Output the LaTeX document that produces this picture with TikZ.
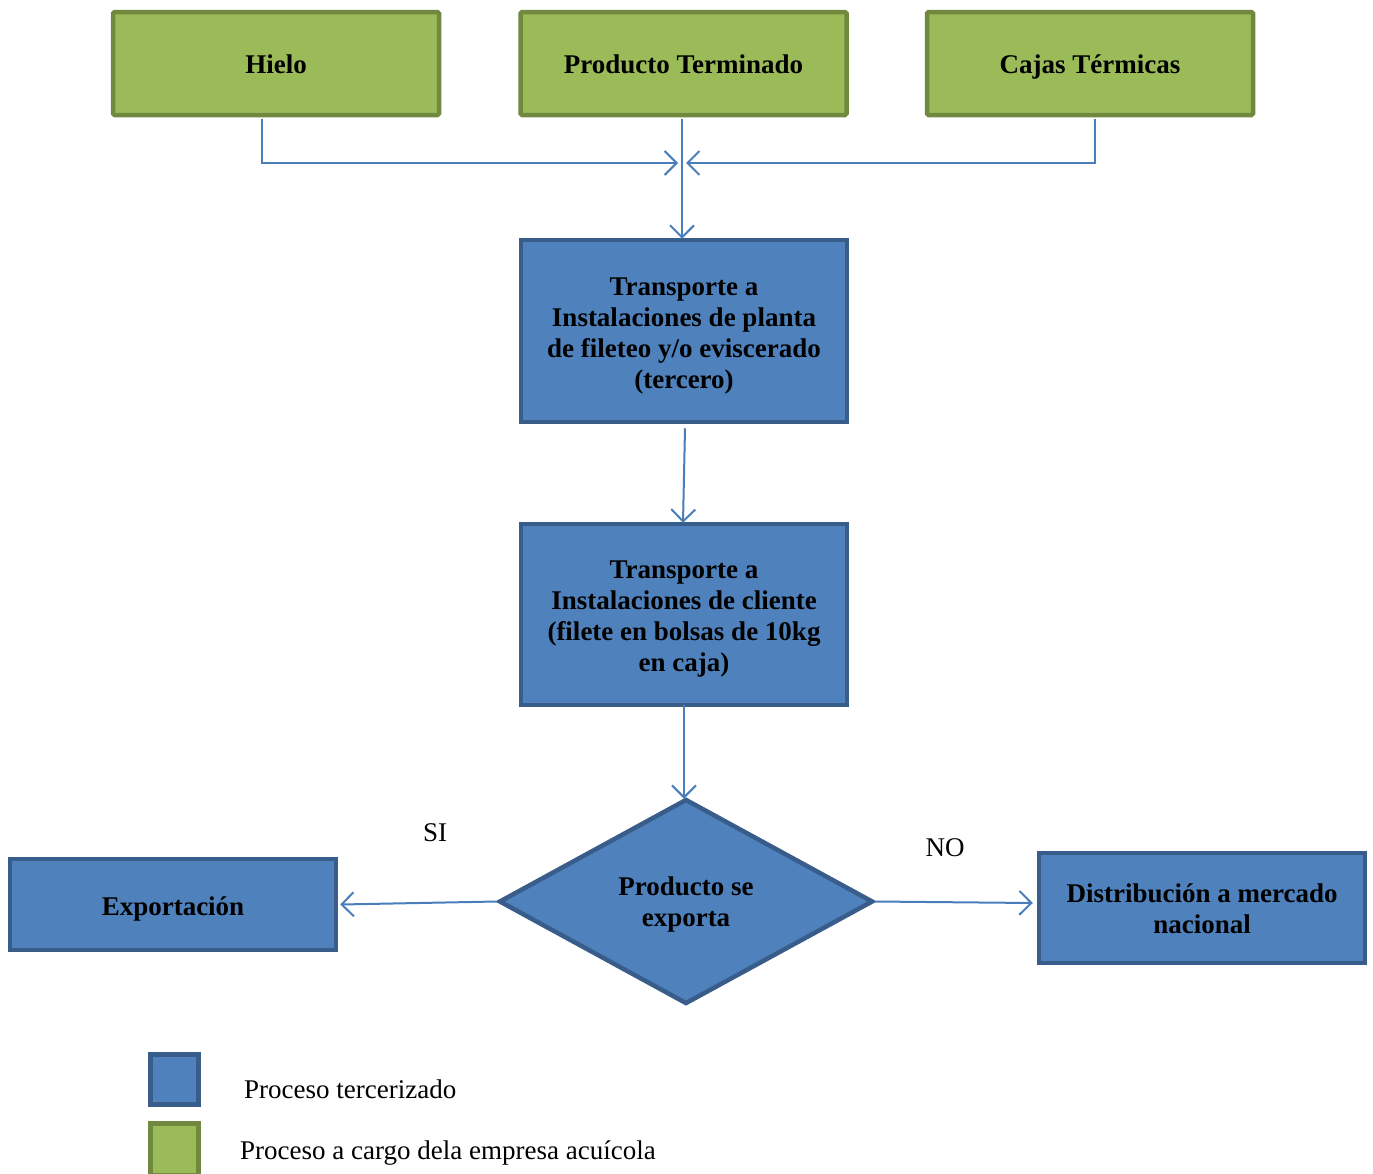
\documentclass[tikz,border=0pt]{standalone}
\usepackage{fontspec}
\setmainfont{Liberation Serif}
\usetikzlibrary{shapes.geometric,arrows.meta}
\definecolor{gfill}{HTML}{9BBB59}
\definecolor{gline}{HTML}{71893F}
\definecolor{bfill}{HTML}{4F81BD}
\definecolor{bline}{HTML}{385D8A}
\definecolor{cline}{HTML}{4A7EBB}
\newcommand{\lowr}[2]{\raisebox{-#1}[\height][\depth]{\begin{tabular}{@{}c@{}}#2\end{tabular}}}
\tikzset{
  gbox/.style={rectangle, rounded corners=1.5pt, draw=gline, fill=gfill, line width=4.5pt, minimum width=326pt, minimum height=103pt, inner sep=0pt, align=center, font=\fontsize{27}{31}\selectfont\bfseries},
  bbox/.style={rectangle, draw=bline, fill=bfill, line width=4.5pt, inner sep=0pt, align=center, font=\fontsize{27}{31}\selectfont\bfseries},
  dbox/.style={diamond, draw=bline, fill=bfill, line width=4.5pt, inner sep=0pt, minimum width=374pt, minimum height=205pt, align=center, font=\fontsize{27}{31}\selectfont\bfseries},
  conn/.style={draw=cline, line width=2pt, -{Straight Barb[length=12pt,width=24pt,line width=2pt]}},
  lbl/.style={inner sep=0pt, font=\fontsize{27}{31}\selectfont},
  legsq/.style={draw=bline, fill=bfill, line width=5pt}
}
\begin{document}
\begin{tikzpicture}[x=1pt,y=-1pt]
\useasboundingbox (0,0) rectangle (1373,1173);
\clip (0,0) rectangle (1373,1173);
\node[gbox] (hielo) at (276,63.5) {\lowr{4pt}{Hielo}};
\node[gbox] (prod) at (683.5,63.5) {\lowr{4pt}{Producto Terminado}};
\node[gbox] (cajas) at (1090,63.5) {\lowr{4pt}{Cajas Térmicas}};
\node[bbox, minimum width=326pt, minimum height=182pt] (t1) at (684,331) {\lowr{5pt}{Transporte a\\Instalaciones de planta\\de fileteo y/o eviscerado\\(tercero)}};
\node[bbox, minimum width=326pt, minimum height=181pt] (t2) at (684,614.5) {\lowr{4pt}{Transporte a\\Instalaciones de cliente\\(filete en bolsas de 10kg\\en caja)}};
\node[dbox] (dec) at (686,901.5) {\lowr{3pt}{Producto se\\exporta}};
\node[bbox, minimum width=326pt, minimum height=91pt] (exp) at (173,904.5) {\lowr{5pt}{Exportación}};
\node[bbox, minimum width=326pt, minimum height=110pt] (dist) at (1202,908) {\lowr{4pt}{Distribución a mercado\\nacional}};
\coordinate (mL) at (678,163);
\coordinate (mR) at (686,163);
\draw[conn] ([xshift=-14pt,yshift=-2pt]hielo.south) |- (mL);
\draw[conn] ([xshift=5pt,yshift=-2pt]cajas.south) |- (mR);
\draw[conn] ([xshift=-1.5pt,yshift=-2pt]prod.south) -- ([xshift=-2pt,yshift=-1pt]t1.north);
\draw[conn] ([xshift=1pt,yshift=-4pt]t1.south) -- ([xshift=-1pt,yshift=-1pt]t2.north);
\draw[conn] ([yshift=2pt]t2.south) -- ([xshift=-2pt,yshift=-2pt]dec.north);
\draw[conn] (dec.west) -- ([xshift=2pt]exp.east);
\draw[conn] (dec.east) -- ([xshift=-4pt,yshift=5pt]dist.west);
\node[lbl] (si) at (435,833) {SI};
\node[lbl] (no) at (945,848) {NO};
\node[legsq, minimum width=48pt, minimum height=50pt, inner sep=0pt] (lb) at (174.5,1079.5) {};
\node[legsq, draw=gline, fill=gfill, minimum width=48pt, minimum height=52pt, inner sep=0pt] (lg) at (174.5,1149) {};
\node[lbl, anchor=west] (lbt) at (244,1089) {Proceso tercerizado};
\node[lbl, anchor=west] (lgt) at (240,1153) {Proceso a cargo dela empresa acuícola};
\end{tikzpicture}
\end{document}
